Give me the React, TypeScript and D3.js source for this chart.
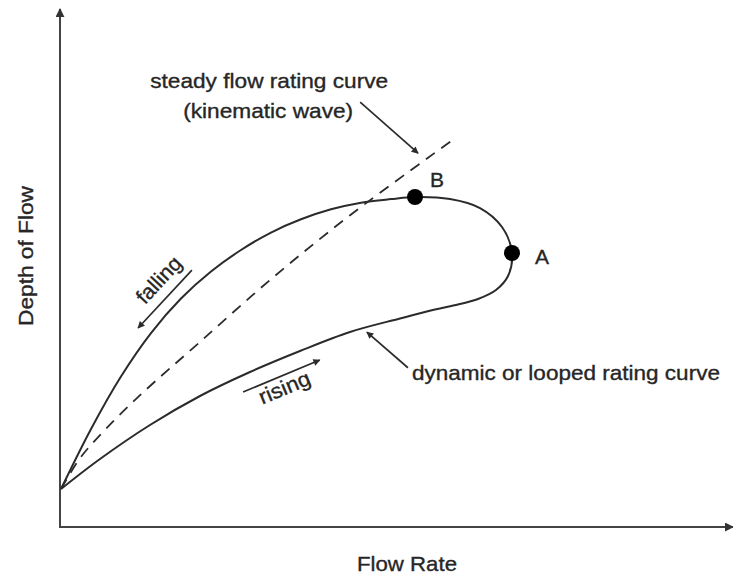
import React from "react";
import * as d3 from "d3";

// Loop (hysteresis) rating curve: origin -> falling limb (upper) -> B -> A -> rising limb (lower) -> origin
const loopFlow = [0.15, 4.61, 9.06, 13.52, 17.98, 22.44, 26.89, 31.35, 35.81, 40.27, 44.73, 49.18, 52.75, 57.95, 62.41, 65.68, 67.16, 66.57, 64.78, 62.11, 59.14, 55.72, 50.52, 43.09, 35.66, 28.23, 20.8, 13.37, 5.94, 0.15];
const loopDepth = [7.35, 18.96, 29.11, 37.52, 44.2, 49.42, 53.58, 56.96, 59.52, 61.45, 62.73, 63.42, 63.83, 63.44, 61.7, 58.03, 53.0, 48.55, 45.84, 44.1, 43.04, 42.07, 40.33, 37.72, 34.04, 29.98, 25.34, 19.73, 13.15, 7.35];

// Steady flow (kinematic wave) rating curve
const steadyFlow = [0.15, 2.97, 6.69, 11.9, 20.8, 31.6, 43.1, 58.7];
const steadyDepth = [7.35, 13.3, 18.8, 25.5, 35.8, 48.2, 60.3, 75.2];

// Marked points
const pointNames = ["B", "A"];
const pointFlow = [52.75, 67.16];
const pointDepth = [63.83, 53.0];

// Annotation arrows [flow, depth]
const arrowNames = ["steady", "dynamic", "falling", "rising"];
const arrowFrom = [[44.6, 82.2], [51.7, 30.8], [19.6, 49.7], [27.2, 26.1]];
const arrowTo = [[53.2, 72.3], [45.6, 37.7], [11.6, 38.5], [38.6, 32.3]];

const xLabel = "Flow Rate";
const yLabel = "Depth of Flow";

const W = 733;
const H = 576;
const FONT = "'Liberation Sans', Arial, sans-serif";

export default function App() {
  const x = d3.scaleLinear().domain([0, 100]).range([60, 733]);
  const y = d3.scaleLinear().domain([0, 100]).range([527, 10]);

  const line = d3
    .line<[number, number]>()
    .x((d) => x(d[0]))
    .y((d) => y(d[1]))
    .curve(d3.curveCatmullRom.alpha(0.5));

  const loopPts: [number, number][] = loopFlow.map((f, i) => [f, loopDepth[i]]);
  const steadyPts: [number, number][] = steadyFlow.map((f, i) => [f, steadyDepth[i]]);

  const ink = "#2b2b2b";
  const txt = "#262626";
  const textProps = { fontSize: 21, fill: txt, stroke: txt, strokeWidth: 0.35 };

  const arrowEls = arrowNames.map((n, i) => (
    <line
      key={n}
      x1={x(arrowFrom[i][0])}
      y1={y(arrowFrom[i][1])}
      x2={x(arrowTo[i][0])}
      y2={y(arrowTo[i][1])}
      stroke={ink}
      strokeWidth={1.7}
      markerEnd="url(#ah)"
    />
  ));

  const ang = (i: number) =>
    (Math.atan2(y(arrowTo[i][1]) - y(arrowFrom[i][1]), x(arrowTo[i][0]) - x(arrowFrom[i][0])) * 180) / Math.PI;
  const fallingAngle = ang(2) + 180;
  const risingAngle = ang(3);

  return (
    <svg
      width={W}
      height={H}
      style={{ position: "absolute", left: 0, top: 0, background: "#fff" }}
      fontFamily={FONT}
    >
      <defs>
        <marker id="ah" viewBox="0 0 10 10" refX="9" refY="5" markerWidth="8" markerHeight="7" orient="auto" markerUnits="userSpaceOnUse">
          <path d="M0,0 L10,5 L0,10 z" fill={ink} />
        </marker>
        <marker id="axh" viewBox="0 0 10 10" refX="9" refY="5" markerWidth="9" markerHeight="9" orient="auto" markerUnits="userSpaceOnUse">
          <path d="M0,0 L10,5 L0,10 z" fill="#333" />
        </marker>
      </defs>

      {/* axes */}
      <line x1={x(0)} y1={y(0)} x2={x(0)} y2={y(100) - 1} stroke="#444" strokeWidth={2} markerEnd="url(#axh)" />
      <line x1={x(0) - 1} y1={y(0)} x2={x(100)} y2={y(0)} stroke="#444" strokeWidth={2} markerEnd="url(#axh)" />

      {/* curves */}
      <path d={line(steadyPts) || ""} fill="none" stroke={ink} strokeWidth={1.8} strokeDasharray="11,8" />
      <path d={line(loopPts) || ""} fill="none" stroke={ink} strokeWidth={2} />

      {/* points */}
      {pointNames.map((n, i) => (
        <circle key={n} cx={x(pointFlow[i])} cy={y(pointDepth[i])} r={8} fill="#000" />
      ))}
      <text x={x(pointFlow[0]) + 15} y={y(pointDepth[0]) - 10} {...textProps}>{pointNames[0]}</text>
      <text x={x(pointFlow[1]) + 23} y={y(pointDepth[1]) + 11} {...textProps}>{pointNames[1]}</text>

      {arrowEls}

      {/* annotation texts */}
      <text x={x(arrowFrom[0][0]) - 91} y={y(arrowFrom[0][1]) - 14} {...textProps} textAnchor="middle" textLength={238} lengthAdjust="spacingAndGlyphs">
        steady flow rating curve
      </text>
      <text x={x(arrowFrom[0][0]) - 92} y={y(arrowFrom[0][1]) + 16} {...textProps} textAnchor="middle" textLength={170} lengthAdjust="spacingAndGlyphs">
        (kinematic wave)
      </text>
      <text x={x(arrowFrom[1][0]) + 4} y={y(arrowFrom[1][1]) + 12} {...textProps} textLength={308} lengthAdjust="spacingAndGlyphs">
        dynamic or looped rating curve
      </text>
      <text
        transform={`translate(${x(arrowFrom[2][0]) - 32},${y(arrowFrom[2][1]) + 11}) rotate(${fallingAngle})`}
        {...textProps}
        textAnchor="middle"
        dominantBaseline="middle"
        textLength={56}
        lengthAdjust="spacingAndGlyphs"
      >
        falling
      </text>
      <text
        transform={`translate(${x(arrowFrom[3][0]) + 42},${y(arrowFrom[3][1]) - 3}) rotate(${risingAngle})`}
        {...textProps}
        textAnchor="middle"
        dominantBaseline="middle"
        textLength={54}
        lengthAdjust="spacingAndGlyphs"
      >
        rising
      </text>

      {/* axis titles */}
      <text x={407} y={571} {...textProps} textAnchor="middle" textLength={100} lengthAdjust="spacingAndGlyphs">
        {xLabel}
      </text>
      <text transform="translate(33,256) rotate(-90)" {...textProps} textAnchor="middle" textLength={140} lengthAdjust="spacingAndGlyphs">
        {yLabel}
      </text>
    </svg>
  );
}
